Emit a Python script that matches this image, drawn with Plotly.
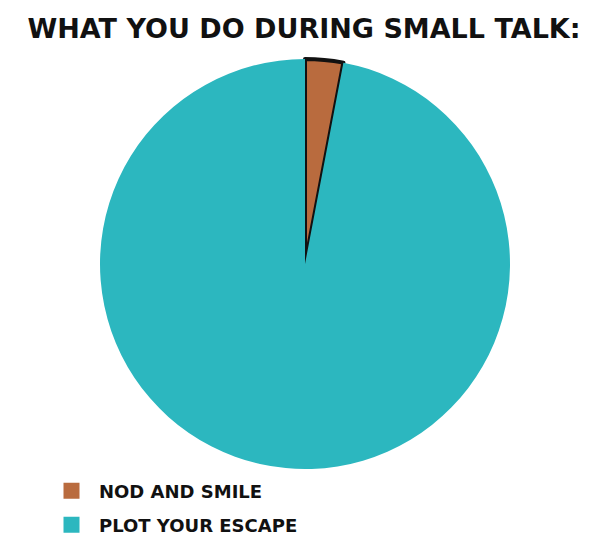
import plotly.graph_objects as go

labels = ["NOD AND SMILE", "PLOT YOUR ESCAPE"]
values = [3, 97]
colors = ["#B96B3E", "#2CB7BF"]
line_colors = ["#111111", "rgba(0,0,0,0)"]
line_widths = [4, 0]
title_text = "WHAT YOU DO DURING SMALL TALK:"

W, H = 605, 551
fig = go.Figure()
fig.add_trace(go.Pie(
    labels=labels,
    values=values,
    sort=False,
    direction="clockwise",
    rotation=0,
    textinfo="none",
    hoverinfo="label+percent",
    showlegend=False,
    marker=dict(colors=colors, line=dict(color=line_colors, width=line_widths)),
    domain=dict(x=[92 / W, 502 / W], y=[1 - 462 / H, 1 - 50 / H]),
))
legend_names = ["legend", "legend2"]
for lab, col, lg in zip(labels, colors, legend_names):
    fig.add_trace(go.Scatter(
        x=[None], y=[None], mode="markers", name=lab, legend=lg,
        marker=dict(symbol="square", size=18, color=col, line=dict(width=0)),
        showlegend=True,
    ))
leg_font = dict(family="DejaVu Sans", size=18, color="#111111", weight=700)
fig.update_layout(
    width=W, height=H,
    margin=dict(l=0, r=0, t=0, b=0),
    paper_bgcolor="white",
    plot_bgcolor="white",
    xaxis=dict(visible=False), yaxis=dict(visible=False),
    title=dict(text=title_text, x=303 / W - 7 / W, xanchor="center", y=1 - 21 / H, yanchor="middle",
               font=dict(family="DejaVu Sans", size=27, color="#111111", weight=700)),
    showlegend=True,
    legend=dict(x=36 / W, y=1 - 483 / H, xanchor="left", yanchor="middle",
                font=leg_font, itemsizing="trace", itemwidth=45),
    legend2=dict(x=36 / W, y=1 - 517 / H, xanchor="left", yanchor="middle",
                 font=leg_font, itemsizing="trace", itemwidth=45),
)
fig.write_html("out.html")
